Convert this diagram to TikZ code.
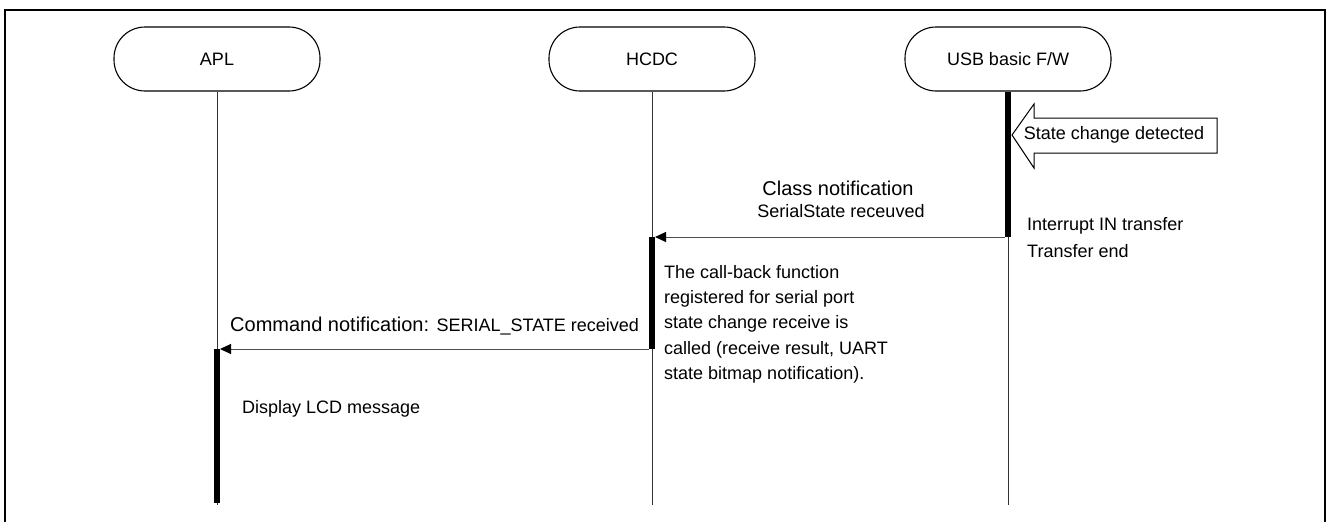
\documentclass[tikz,border=0pt]{standalone}
\usepackage{fontspec}
\setmainfont{Liberation Sans}
\usetikzlibrary{arrows.meta}

\begin{document}
\begin{tikzpicture}[x=1pt,y=1pt,yscale=-1,
  actor/.style={draw,line width=1.1pt,rounded corners=31pt,minimum width=206pt,minimum height=64pt,font=\fontsize{18}{22}\selectfont},
  life/.style={line width=1pt,black!80},
  active/.style={line width=6pt},
  msg/.style={line width=1pt,black!70,-{Triangle[length=11pt,width=10pt,black]}},
  note/.style={inner sep=0pt,font=\fontsize{18}{22}\selectfont},
  bignote/.style={inner sep=0pt,font=\fontsize{20}{24}\selectfont}]
\useasboundingbox (0,0) rectangle (1327,522);

%Frame, open at the bottom
\draw[line width=2pt] (5,522) -- (5,10) -- (1325,10) -- (1325,522);

%Actors
\node[actor] (apl) at (217,59) {APL};
\node[actor] (hcdc) at (652,59) {HCDC};
\node[actor] (usbfw) at (1008,59) {USB basic F/W};

%Points on the lifelines
\coordinate (apl-end) at (217,505);
\coordinate (hcdc-end) at (652,505);
\coordinate (usb-end) at (1008,505);
\coordinate (usb-act) at (1008,237);
\coordinate (hcdc-act) at (652,237);
\coordinate (hcdc-ret) at (652,349);
\coordinate (apl-act) at (217,349);
\coordinate (apl-done) at (217,503);

%Lifelines
\draw[life] (apl.south) -- (apl-end);
\draw[life] (hcdc.south) -- (hcdc-end);
\draw[life] (usbfw.south) -- (usb-end);

%Activation bars
\draw[active] (usbfw.south) -- (usb-act);
\draw[active] (hcdc-act) -- (hcdc-ret);
\draw[active] (apl-act) -- (apl-done);

%Messages
\draw[msg] ([xshift=-3pt]usb-act) -- ([xshift=3pt]hcdc-act);
\draw[msg] ([xshift=-3pt]hcdc-ret) -- ([xshift=3pt]apl-act);

%State change callout
\draw[line width=1pt,fill=white] (1012,135) -- (1034,104) -- (1034,118) -- (1217,118)
  -- (1217,153) -- (1034,153) -- (1034,168) -- cycle;
\node[note] (detect) at (1114,135) {State change detected};

%Labels (multi-line ones are placed by the baseline of their last line)
\node[bignote,anchor=base] (clsnote) at (838,195) {Class notification};
\node[note,anchor=base] (serstate) at (841,217) {SerialState receuved};
\node[note,anchor=base west,align=left,font=\fontsize{18}{27}\selectfont] (intr) at (1027,257.5)
  {Interrupt IN transfer\\Transfer end};
\node[note,anchor=base west,align=left,font=\fontsize{18}{25.3}\selectfont] (cbk) at (664,379.5)
  {The call-back function\\registered for serial port\\state change receive is\\called (receive result, UART\\state bitmap notification).};
\node[bignote,anchor=base west] (cmdnote) at (230,331)
  {Command notification: {\fontsize{18}{22}\selectfont SERIAL\_STATE received}};
\node[note,anchor=base west] (lcd) at (242,413.5) {Display LCD message};

\end{tikzpicture}
\end{document}
